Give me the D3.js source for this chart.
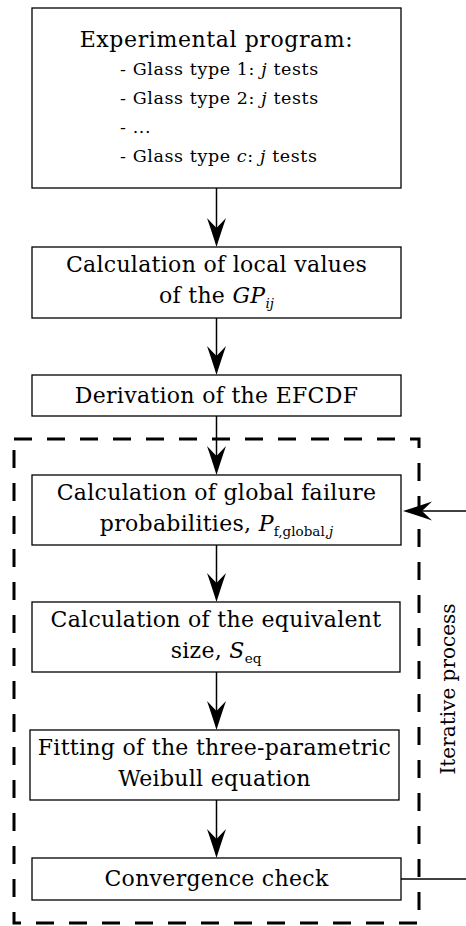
<!DOCTYPE html>
<html>
<head>
<meta charset="utf-8">
<script src="https://cdn.jsdelivr.net/npm/d3@7"></script>
<style>
  html, body { margin: 0; padding: 0; background: #fff; }
  svg { display: block; }
</style>
</head>
<body>
<script>
// Flowchart content: segments carry italic (i) / subscript (sub) flags.
const programTitle = "Experimental program:";
const programItems = [
  [{ t: "- Glass type 1: " }, { t: "j", i: 1 }, { t: " tests" }],
  [{ t: "- Glass type 2: " }, { t: "j", i: 1 }, { t: " tests" }],
  [{ t: "- ..." }],
  [{ t: "- Glass type " }, { t: "c", i: 1 }, { t: ": " }, { t: "j", i: 1 }, { t: " tests" }]
];
const steps = [
  [[{ t: "Calculation of local values" }], [{ t: "of the " }, { t: "GP", i: 1 }, { t: "ij", i: 1, sub: 1 }]],
  [[{ t: "Derivation of the EFCDF" }]],
  [[{ t: "Calculation of global failure" }], [{ t: "probabilities, " }, { t: "P", i: 1 }, { t: "f,global,", sub: 1 }, { t: "j", i: 1, sub: 1 }]],
  [[{ t: "Calculation of the equivalent" }], [{ t: "size, " }, { t: "S", i: 1 }, { t: "eq", sub: 1 }]],
  [[{ t: "Fitting of the three-parametric" }], [{ t: "Weibull equation" }]],
  [[{ t: "Convergence check" }]]
];
const loopLabel = "Iterative process";
const loopFrom = 5;   // index in steps: "Convergence check"
const loopTo = 2;     // back into "Calculation of global failure probabilities"

// Layout (pixels)
const W = 466, H = 926;
const cx = 216.5;
const boxLayout = [
  { x: 32, y: 8, w: 369, h: 180 },
  { x: 32, y: 247, w: 369, h: 71 },
  { x: 32, y: 375, w: 369, h: 41 },
  { x: 32, y: 475, w: 369, h: 70 },
  { x: 32, y: 602, w: 368, h: 70 },
  { x: 30, y: 730, w: 369, h: 70 },
  { x: 32, y: 858, w: 369, h: 42 }
];
const frame = { x: 14, y: 439, w: 405, h: 484 };
const FONT = "'DejaVu Serif', 'Liberation Serif', serif";
const fs = 22, fsSmall = 17.5, fsSub = 13.5;

const svg = d3.select("body").append("svg")
  .attr("width", W).attr("height", H)
  .attr("viewBox", `0 0 ${W} ${H}`);

// arrowhead pointing along +x with tip at origin
function arrowHead(g, x, y, angle) {
  const p = d3.path();
  p.moveTo(0, 0);
  p.quadraticCurveTo(-13, -4, -29, -9.5);
  p.lineTo(-19, 0);
  p.lineTo(-29, 9.5);
  p.quadraticCurveTo(-13, 4, 0, 0);
  p.closePath();
  g.append("path")
    .attr("d", p.toString())
    .attr("transform", `translate(${x},${y}) rotate(${angle})`)
    .attr("fill", "#000");
}

function richLine(sel, segs) {
  let shifted = false;
  segs.forEach(s => {
    const ts = sel.append("tspan").text(s.t);
    if (s.i) ts.attr("font-style", "italic");
    if (s.sub) {
      ts.attr("font-size", fsSub).attr("letter-spacing", 0);
      if (!shifted) { ts.attr("dy", 5); shifted = true; }
    } else if (shifted) {
      ts.attr("dy", -5); shifted = false;
    }
  });
}

// Dashed frame around the iterative steps
const fp = d3.path();
fp.moveTo(frame.x, frame.y);
fp.lineTo(frame.x + frame.w, frame.y);
fp.lineTo(frame.x + frame.w, frame.y + frame.h);
fp.lineTo(frame.x, frame.y + frame.h);
fp.closePath();
svg.append("path")
  .attr("d", fp.toString())
  .attr("fill", "none")
  .attr("stroke", "#000")
  .attr("stroke-width", 3)
  .attr("stroke-dasharray", "18 15");

// Connectors between consecutive boxes
const linkG = svg.append("g");
d3.pairs(boxLayout).forEach(([a, b]) => {
  linkG.append("line")
    .attr("x1", cx).attr("x2", cx)
    .attr("y1", a.y + a.h).attr("y2", b.y - 10)
    .attr("stroke", "#000").attr("stroke-width", 1.5);
  arrowHead(linkG, cx, b.y, 90);
});

// Boxes
svg.append("g").selectAll("rect")
  .data(boxLayout)
  .join("rect")
  .attr("x", d => d.x).attr("y", d => d.y)
  .attr("width", d => d.w).attr("height", d => d.h)
  .attr("fill", "#fff")
  .attr("stroke", "#000")
  .attr("stroke-width", 1.3);

// Box 1: program
const b0 = boxLayout[0];
svg.append("text")
  .attr("x", cx).attr("y", b0.y + 39)
  .attr("text-anchor", "middle")
  .attr("font-family", FONT).attr("font-size", fs)
  .attr("letter-spacing", 0.6)
  .text(programTitle);
programItems.forEach((segs, k) => {
  const t = svg.append("text")
    .attr("x", 120).attr("y", b0.y + 67 + k * 29)
    .attr("font-family", FONT).attr("font-size", fsSmall)
    .attr("letter-spacing", 0.6);
  richLine(t, segs);
});

// Step boxes
steps.forEach((lines, k) => {
  const b = boxLayout[k + 1];
  const mid = b.y + b.h / 2;
  const bx = b.x + b.w / 2;
  const baselines = lines.length === 1 ? [mid + 7] : [mid - 10.5, mid + 20.5];
  lines.forEach((segs, j) => {
    const t = svg.append("text")
      .attr("x", bx).attr("y", baselines[j])
      .attr("text-anchor", "middle")
      .attr("font-family", FONT).attr("font-size", fs)
      .attr("letter-spacing", 0.3);
    richLine(t, segs);
  });
});

// Feedback loop
const src = boxLayout[loopFrom + 1], dst = boxLayout[loopTo + 1];
const sy = src.y + src.h / 2, dy = dst.y + dst.h / 2 + 1;
svg.append("line")
  .attr("x1", src.x + src.w).attr("x2", W)
  .attr("y1", sy).attr("y2", sy)
  .attr("stroke", "#000").attr("stroke-width", 1.5);
svg.append("line")
  .attr("x1", W).attr("x2", dst.x + dst.w + 12)
  .attr("y1", dy).attr("y2", dy)
  .attr("stroke", "#000").attr("stroke-width", 1.5);
arrowHead(svg, dst.x + dst.w + 2, dy, 180);

// Loop label
svg.append("text")
  .attr("transform", `translate(455,${frame.y + frame.h / 2 + 8}) rotate(-90)`)
  .attr("text-anchor", "middle")
  .attr("font-family", FONT).attr("font-size", 20)
  .text(loopLabel);
</script>
</body>
</html>
